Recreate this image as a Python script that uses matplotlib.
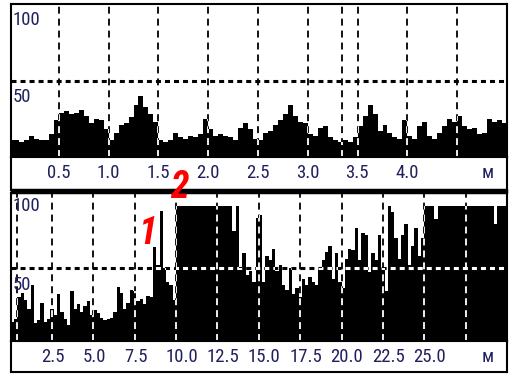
import numpy as np
import matplotlib
matplotlib.use('Agg')
import matplotlib.pyplot as plt
from matplotlib.patches import Rectangle
from matplotlib.transforms import offset_copy
from matplotlib import font_manager

plt.rcParams['lines.scale_dashes'] = False

# upper trace, 0.05 m bins from 0 to 5 m
top_step = 0.05
top_vals = [11, 11, 10, 11, 14, 12, 11, 11, 15, 24,
            29, 30, 28, 29, 31, 27, 22, 25, 24, 18,
            11, 16, 21, 22, 26, 34, 40, 33, 28, 23,
            11, 10, 11, 16, 13, 12, 14, 13, 15, 25,
            18, 14, 15, 14, 13, 11, 19, 22, 18, 12,
            11, 16, 17, 21, 24, 28, 34, 27, 23, 22,
            15, 14, 19, 20, 13, 11, 10, 11, 10, 13,
            20, 27, 34, 28, 17, 21, 16, 13, 12, 24,
            14, 12, 20, 23, 14, 12, 16, 20, 25, 23,
            27, 20, 18, 19, 15, 16, 25, 23, 24, 22]
top_ticks = [0.5, 1.0, 1.5, 2.0, 2.5, 3.0, 3.5, 4.0]
top_grid = [0.5, 1.0, 1.5, 2.0, 2.5, 3.0, 3.34, 3.5, 4.0, 4.5]

# lower trace, 0.2 m bins from 0 to 30 m
bot_step = 0.2
bot_vals = [13, 15, 30, 33, 28, 22, 38, 12, 14, 26,
            13, 15, 22, 18, 32, 20, 15, 11, 34, 22,
            25, 20, 24, 27, 18, 21, 19, 16, 14, 15,
            16, 20, 37, 33, 22, 26, 35, 34, 27, 29,
            25, 31, 30, 64, 52, 89, 50, 40, 38, 28,
            92, 92, 92, 92, 92, 92, 92, 92, 92, 92,
            92, 92, 92, 92, 92, 92, 92, 75, 92, 50,
            60, 45, 48, 40, 84, 86, 40, 58, 55, 63,
            48, 52, 38, 35, 50, 32, 36, 30, 42, 38,
            44, 40, 38, 50, 55, 61, 65, 42, 60, 40,
            36, 56, 63, 62, 77, 55, 74, 72, 47, 60,
            55, 72, 50, 34, 92, 88, 70, 56, 72, 80,
            52, 65, 77, 58, 70, 92, 92, 92, 83, 92,
            92, 92, 92, 92, 92, 92, 92, 92, 92, 92,
            92, 92, 92, 92, 92, 92, 80, 92, 92, 92]
bot_ticks = [2.5, 5.0, 7.5, 10.0, 12.5, 15.0, 17.5, 20.0, 22.5, 25.0]
bot_grid = [0.36, 2.5, 5.0, 7.5, 10.0, 12.5, 15.0, 17.5, 20.0, 22.5, 25.0, 27.5]

W, H = 510, 376
navy = '#202060'
names = {f.name for f in font_manager.fontManager.ttflist}
narrow = ['Roboto Condensed', 'DejaVu Sans']
if 'Roboto Condensed' not in names:
    narrow = ['DejaVu Sans']
fs = 13.5

fig = plt.figure(figsize=(W / 100, H / 100), dpi=100)


def box(x0, y0, x1, y1):
    # pixel box measured from the top-left corner
    return [x0 / W, 1 - y1 / H, (x1 - x0) / W, (y1 - y0) / H]


def panel(plot_box, band_box, step, vals, xlim, ylim, grid_x, ticks, dx, lab100, lab50):
    ax = fig.add_axes(plot_box)
    edges = np.arange(len(vals) + 1) * step
    yv = np.append(vals, vals[-1])
    poly = ax.fill_between(edges, yv, step='post', color='black', lw=0, zorder=2)
    ax.set_xlim(xlim)
    ax.set_ylim(ylim)
    clip = poly.get_paths()[0]
    for gx in grid_x:
        ax.axvline(gx, color='black', lw=1.3, dashes=(5, 3.6), zorder=1)
        w = ax.axvline(gx, color='white', lw=1.3, dashes=(5, 3.6), zorder=3)
        w.set_clip_path(clip, ax.transData)
    ax.axhline(50, color='black', lw=2.2, dashes=(3.6, 2.9), zorder=1)
    w = ax.axhline(50, color='white', lw=2.2, dashes=(3.6, 2.9), zorder=3)
    w.set_clip_path(clip, ax.transData)
    ax.set_xticks([])
    ax.set_yticks([])
    for s in ax.spines.values():
        s.set_linewidth(1.5)
    ax.text(0.004, lab100, '100', transform=ax.transAxes, va='top', ha='left',
            color=navy, fontsize=fs, family=narrow, zorder=4)
    ax.text(0.004, lab50, '50', transform=ax.transAxes, va='top', ha='left',
            color=navy, fontsize=fs, family=narrow, zorder=4)

    band = fig.add_axes(band_box)
    band.set_xlim(xlim)
    band.set_ylim(0, 1)
    band.set_xticks([])
    band.set_yticks([])
    for s in band.spines.values():
        s.set_linewidth(1.5)
    tr = offset_copy(band.transData, fig=fig, x=dx, y=0, units='dots')
    for t in ticks:
        band.text(t, 0.5, '%.1f' % t, transform=tr, ha='left', va='center',
                  color=navy, fontsize=fs, family=narrow)
    fig.text(488 / W, band_box[1] + band_box[3] / 2, 'м', ha='center', va='center',
             color=navy, fontsize=fs, family=narrow)
    return ax, band


panel(box(11, 4, 507, 157), box(11, 157, 507, 190), top_step, top_vals,
      (0.02, 5.0), (0, 100), top_grid, top_ticks, -12, 0.955, 0.450)
panel(box(11, 193, 507, 341), box(11, 341, 507, 372), bot_step, bot_vals,
      (0.02, 30.0), (0, 101), bot_grid, bot_ticks, -11, 0.975, 0.44)

# thick separator between the two panels
fig.patches.append(Rectangle((11 / W, 1 - 193 / H), 496 / W, 4 / H,
                             transform=fig.transFigure, color='black', zorder=5))

# red markers
fig.text(148 / W, 1 - 233 / H, '1', color='red', fontsize=27, style='italic',
         weight='bold', family=narrow, ha='center', va='center', zorder=6)
fig.text(179 / W, 1 - 187 / H, '2', color='red', fontsize=27, style='italic',
         weight='bold', family=narrow, ha='center', va='center', zorder=6)

fig.savefig('out.png', dpi=100)
